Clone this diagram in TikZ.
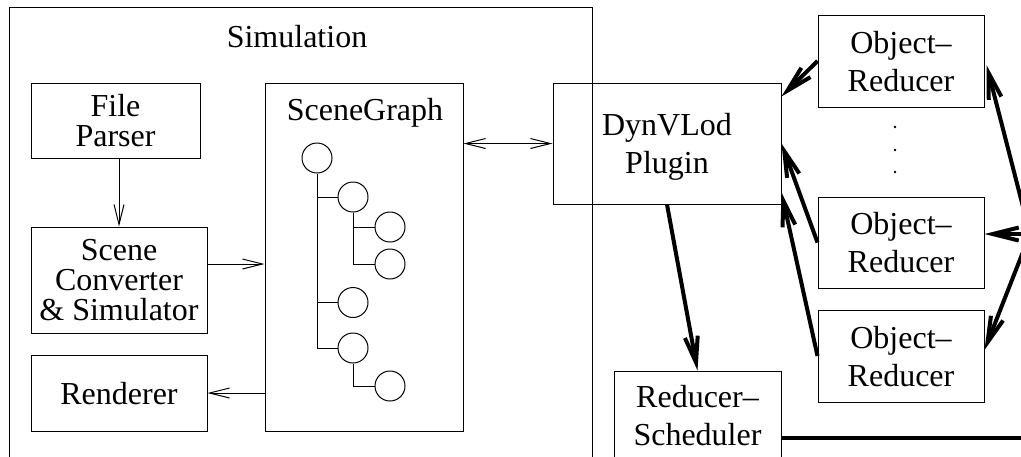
\documentclass[tikz,border=0pt]{standalone}
\usepackage{fontspec}
\setmainfont{Liberation Serif}
\usetikzlibrary{arrows.meta,calc}
\tikzset{
  boxnode/.style={draw, line width=0.5pt, rectangle, inner sep=0pt, align=center, text depth=0pt},
  lefttext/.style={font=\fontsize{16}{15}\selectfont},
  righttext/.style={font=\fontsize{16}{19}\selectfont},
  treenode/.style={draw, circle, line width=0.5pt, minimum size=15pt, inner sep=0pt},
  treeline/.style={line width=0.5pt},
  thinbarb/.tip={Straight Barb[length=10pt,width=5pt]},
  thickbarb/.tip={Straight Barb[length=13pt,width=6.5pt]},
  thinarrow/.style={line width=0.5pt, -thinbarb},
  thickarrow/.style={line width=2pt, -thickbarb},
  thickline/.style={line width=2pt},
}
\begin{document}
\begin{tikzpicture}[x=0.5pt, y=-0.5pt, font=\fontsize{16}{19}\selectfont]
\useasboundingbox (0,0) rectangle (1021,456);
\clip (0,0) rectangle (1021,456);

% simulation frame and its contents
\node[boxnode, minimum width=291.5pt, minimum height=231.5pt] (sim) at (300.5,238.5) {};
\node[anchor=base] (simtitle) at (297,47) {Simulation};

\node[boxnode, lefttext, minimum width=84.5pt, minimum height=37.5pt] (fp) at (115.5,120.5) {File\\Parser};
\node[boxnode, lefttext, minimum width=88pt, minimum height=53pt] (sc) at (119,280) {Scene\\Converter\\\& Simulator};
\node[boxnode, minimum width=88pt, minimum height=38pt] (rd) at (119,393) {Renderer};
\node[boxnode, minimum width=99pt, minimum height=174pt] (sg) at (364,257) {};
\node[anchor=base] (sgtitle) at (365,120) {SceneGraph};

% scene graph tree
\node[treenode] (c1) at (317,158) {};
\node[treenode] (c2) at (353,197) {};
\node[treenode] (c3) at (390,227) {};
\node[treenode] (c4) at (390,264) {};
\node[treenode] (c5) at (353,302.5) {};
\node[treenode] (c6) at (353,348) {};
\node[treenode] (c7) at (390,386) {};
\draw[treeline] (c1.south) -- (c1.south |- c6.west) -- (c6.west);
\draw[treeline] (c1.south |- c2.west) -- (c2.west);
\draw[treeline] (c1.south |- c5.west) -- (c5.west);
\draw[treeline] (c2.south) -- (c2.south |- c4.west) -- (c4.west);
\draw[treeline] (c2.south |- c3.west) -- (c3.west);
\draw[treeline] (c6.south) -- (c6.south |- c7.west) -- (c7.west);

% connectors inside the simulation
\draw[thinarrow] (sc.north |- fp.south) -- (sc.north);
\coordinate (scout) at ($(sc.east)+(0,-16)$);
\draw[thinarrow] (scout) -- (sg.west |- scout);
\draw[thinarrow] (sg.west |- rd.east) -- (rd.east);

% level-of-detail plugin side
\node[boxnode, righttext, minimum width=114pt, minimum height=60.5pt] (dv) at (667,143.5) {DynVLod\\Plugin};
\node[boxnode, righttext, minimum width=83pt, minimum height=46pt] (or1) at (901,61) {Object--\\Reducer};
\node[boxnode, righttext, minimum width=83pt, minimum height=45.5pt] (or2) at (901,242.5) {Object--\\Reducer};
\node[boxnode, righttext, minimum width=83pt, minimum height=46pt] (or3) at (901,356) {Object--\\Reducer};
\node[boxnode, righttext, minimum width=83.5pt, minimum height=44pt] (rs) at (697.5,415) {Reducer--\\Scheduler};

\fill (895,127) circle[radius=1.3];
\fill (895,150) circle[radius=1.3];
\fill (895,172) circle[radius=1.3];

\draw[line width=0.5pt, thinbarb-thinbarb] (sg.east |- dv.west) -- (dv.west);

\draw[thickarrow] (or1.west) -- ($(dv.north east)+(0,14)$);
\draw[thickarrow] (or2.west) -- (dv.east);
\draw[thickarrow] (or3.west) -- ($(dv.south east)+(0,-12)$);
\draw[thickarrow] (dv.south) -- (rs.north);

\coordinate (hub) at (1030,234);
\coordinate (bus) at (1040,438);
\draw[thickline] (rs.east |- bus) -- (bus);
\draw[thickarrow] (hub) -- ($(or1.east)+(2,4)$);
\draw[thickarrow] (hub) -- (or2.east |- hub);
\draw[thickarrow] (hub) -- ($(or3.east)+(0,-6)$);
\end{tikzpicture}
\end{document}
